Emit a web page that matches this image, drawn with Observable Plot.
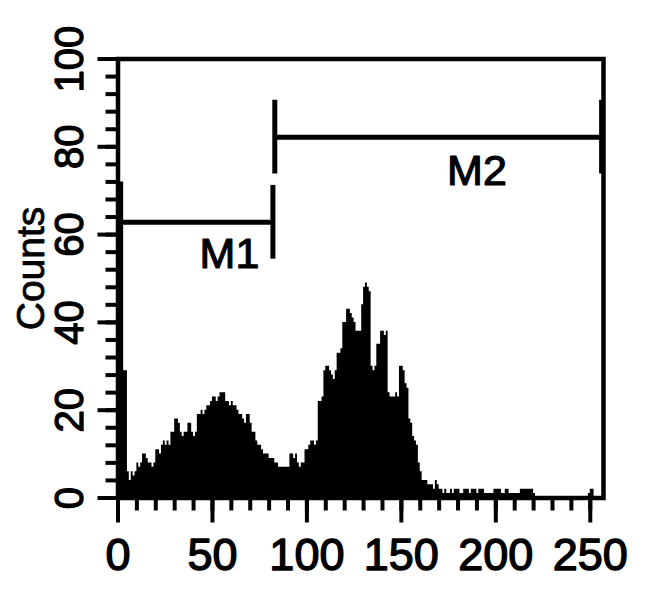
<!DOCTYPE html>
<html>
<head>
<meta charset="utf-8">
<script src="https://cdn.jsdelivr.net/npm/d3@7"></script>
<script src="https://cdn.jsdelivr.net/npm/@observablehq/plot@0.6"></script>
<style>
  body { margin: 0; background: white; }
</style>
</head>
<body>
<div id="chart"></div>
<script>
// Histogram counts per channel (0..255)
const counts = [
  72, 72, 72, 29, 29, 6, 4, 6, 5, 6,      // 0-9
  8, 7, 8, 10, 10, 9, 8, 8, 7, 8,         // 10-19
  11, 11, 10, 12, 13, 12, 13, 12, 15, 15, // 20-29
  18, 18, 17, 15, 14, 15, 15, 17, 17, 15, // 30-39
  14, 15, 19, 19, 20, 19, 20, 21, 21, 22, // 40-49
  23, 23, 22, 23, 24, 24, 24, 22, 22, 21, // 50-59
  22, 21, 21, 20, 19, 19, 18, 17, 19, 19, // 60-69
  17, 15, 15, 13, 12, 12, 11, 10, 10, 10, // 70-79
  9, 9, 9, 8, 8, 7, 7, 7, 7, 7,           // 80-89
  7, 10, 10, 9, 10, 8, 7, 8, 8, 11,       // 90-99
  11, 12, 13, 13, 12, 13, 22, 22, 23, 29, // 100-109
  30, 30, 29, 28, 27, 29, 33, 33, 34, 40, // 110-119
  40, 43, 43, 42, 41, 40, 38, 38, 38, 44, // 120-129
  48, 49, 48, 47, 30, 29, 30, 35, 35, 38, // 130-139
  38, 37, 38, 24, 23, 23, 23, 24, 23, 30, // 140-149
  30, 29, 26, 25, 18, 17, 14, 13, 12, 8,  // 150-159
  6, 4, 4, 4, 3, 3, 3, 2, 4, 3,           // 160-169
  2, 2, 1, 2, 1, 1, 2, 1, 2, 2,           // 170-179
  2, 1, 1, 2, 2, 2, 1, 2, 2, 2,           // 180-189
  1, 2, 2, 2, 1, 1, 1, 1, 1, 2,           // 190-199
  2, 2, 2, 1, 1, 2, 2, 1, 1, 1,           // 200-209
  1, 1, 1, 2, 2, 2, 2, 2, 2, 2,           // 210-219
  1, 0, 0, 0, 0, 0, 0, 0, 0, 0,           // 220-229
  0, 0, 0, 0, 0, 0, 0, 0, 0, 0,           // 230-239
  0, 0, 0, 0, 0, 0, 0, 0, 0, 1,           // 240-249
  2, 2, 0, 0, 0, 0                        // 250-255
];

// Markers
const markerNames = ["M1", "M2"];
const markerStart = [1, 83];
const markerEnd = [82, 256];
const markerLevel = [62.8, 82.2];
const markerHalf = [8.4, 8.4];
const markerLabelX = [59, 190];
const markerLabelY = [52.3, 71.2];

// Axis ticks
const xMajor = [0, 50, 100, 150, 200, 250];
const xMinor = d3.range(0, 251, 10);
const yMajor = [0, 20, 40, 60, 80, 100];
const yMinor = d3.range(0, 101, 4);
const yTitle = "Counts";

const hist = counts.map((c, i) => ({ch: i, count: c}));
hist.push({ch: 256, count: counts[counts.length - 1]});

const markers = markerNames.map((name, i) => ({
  name, x1: markerStart[i], x2: markerEnd[i], y: markerLevel[i],
  lo: markerLevel[i] - markerHalf[i], hi: markerLevel[i] + markerHalf[i],
  lx: markerLabelX[i], ly: markerLabelY[i]
}));
const markerEnds = markers.flatMap(m => [
  {x: m.x1, y1: m.lo, y2: m.hi},
  {x: m.x2, y1: m.lo, y2: m.hi}
]);

const chart = Plot.plot({
  width: 650,
  height: 598,
  marginLeft: 117.5,
  marginRight: 47,
  marginTop: 58.5,
  marginBottom: 100.5,
  style: {fontFamily: "'Liberation Sans', Arial, sans-serif", background: "white", color: "black"},
  x: {domain: [0, 257], label: null},
  y: {domain: [0, 100], label: null},
  marks: [
    Plot.areaY(hist, {x: "ch", y: "count", curve: "step-after", fill: "black"}),
    Plot.ruleY(markers, {x1: "x1", x2: "x2", y: "y", stroke: "black", strokeWidth: 5}),
    Plot.ruleX(markerEnds, {x: "x", y1: "y1", y2: "y2", stroke: "black", strokeWidth: 5}),
    Plot.text(markers, {x: "lx", y: "ly", text: "name", textAnchor: "middle", lineAnchor: "bottom",
      fontSize: 43, fill: "black", stroke: "black", strokeWidth: 1.2}),
    Plot.frame({stroke: "black", strokeWidth: 4.5}),
    Plot.axisY(yMinor, {tickSize: 12, strokeWidth: 4, fill: "none", label: null}),
    Plot.axisY(yMajor, {tickSize: 20, strokeWidth: 4, fill: "none", label: null}),
    Plot.axisY(yMajor, {tickSize: 0, tickRotate: -90, tickPadding: 35.5, fontSize: 40,
      textStroke: "black", textStrokeWidth: 1.3, label: null}),
    Plot.axisX(xMinor, {tickSize: 13, strokeWidth: 4, fill: "none", label: null}),
    Plot.axisX(xMajor, {tickSize: 25, strokeWidth: 4, fill: "none", label: null}),
    Plot.axisX(xMajor, {tickSize: 0, tickPadding: 40.5, fontSize: 45,
      fontFamily: "'Liberation Sans Narrow', 'Liberation Sans', sans-serif",
      textStroke: "black", textStrokeWidth: 1.4, label: null}),
    Plot.text([yTitle], {frameAnchor: "left", textAnchor: "middle", rotate: -90, dx: -74.5, dy: -10,
      lineAnchor: "bottom", fontSize: 39, fill: "black", stroke: "black", strokeWidth: 0.8})
  ]
});
document.getElementById("chart").appendChild(chart);
</script>
</body>
</html>
